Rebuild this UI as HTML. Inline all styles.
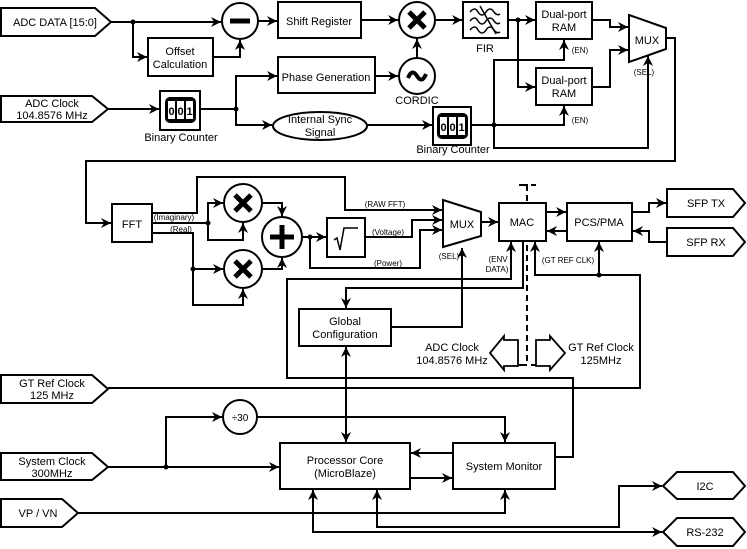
<!DOCTYPE html>
<html><head><meta charset="utf-8"><style>
html,body{margin:0;padding:0;background:#fff;}
svg{display:block;}
text{font-family:"Liberation Sans",sans-serif;fill:#000;}
.t{font-size:11px;text-anchor:middle;}
.s{font-size:8px;text-anchor:middle;}
</style></head><body>
<svg width="747" height="549" viewBox="0 0 747 549" xmlns="http://www.w3.org/2000/svg">
<defs>
<marker id="a" viewBox="0 0 10 10" refX="10" refY="5" markerWidth="10" markerHeight="10" markerUnits="userSpaceOnUse" orient="auto-start-reverse">
<path d="M0,0 L10,5 L0,10 L3,5 z" fill="#000"/></marker>
</defs>
<!-- dashed line (behind) -->
<g stroke="#000" stroke-width="2" fill="none">
<line x1="527" y1="185" x2="527" y2="365" stroke-dasharray="6,4"/>
<polyline points="519,185 527,185 527,190"/><line x1="531" y1="185" x2="536" y2="185"/>
<polyline points="519,365 527,365"/><line x1="531" y1="365" x2="536" y2="365"/>
</g>
<g fill="none" stroke="#000" stroke-width="2">
<!-- ports -->
<polygon points="1,8 95,8 111,22 95,36 1,36" fill="#fff"/>
<polygon points="1,96 92,96 108,109 92,122 1,122" fill="#fff"/>
<polygon points="1,375 92,375 108,389 92,403 1,403" fill="#fff"/>
<polygon points="1,453 92,453 108,467 92,480 1,480" fill="#fff"/>
<polygon points="1,499 62,499 78,513 62,527 1,527" fill="#fff"/>
<polygon points="667,189 733,189 745,203 733,217 667,217" fill="#fff"/>
<polygon points="667,228 733,228 745,242 733,256 667,256" fill="#fff"/>
<polygon points="663,486 677,472 733,472 745,486 733,499 677,499" fill="#fff"/>
<polygon points="663,532 677,518 733,518 745,532 733,546 677,546" fill="#fff"/>

<!-- top row -->
<line x1="111" y1="22" x2="221" y2="22" marker-end="url(#a)"/>
<polyline points="133,22 133,57 147,57" marker-end="url(#a)"/>
<rect x="148" y="38" width="65" height="38"/>
<polyline points="213,57 240,57 240,40" marker-end="url(#a)"/>
<circle cx="240" cy="21" r="18"/>
<line x1="258" y1="21" x2="277" y2="21" marker-end="url(#a)"/>
<rect x="278" y="2" width="83" height="36"/>
<line x1="361" y1="20" x2="398" y2="20" marker-end="url(#a)"/>
<circle cx="417" cy="20" r="18"/>
<line x1="435" y1="20" x2="462" y2="20" marker-end="url(#a)"/>
<rect x="463" y="2" width="45" height="36"/>
<line x1="508" y1="20" x2="535" y2="20" marker-end="url(#a)"/>
<polyline points="518,20 518,87 535,87" marker-end="url(#a)"/>
<rect x="536" y="2" width="56" height="37"/>
<rect x="536" y="68" width="56" height="37"/>
<polyline points="592,20 610,20 610,27 628,27" marker-end="url(#a)"/>
<polyline points="592,87 610,87 610,50 628,50" marker-end="url(#a)"/>
<polygon points="629,15 666,28 666,49 629,62" fill="#fff"/>
<polyline points="666,38 675,38 675,161 86,161 86,223 111,223" marker-end="url(#a)"/>

<!-- second row -->
<line x1="108" y1="109" x2="159" y2="109" marker-end="url(#a)"/>
<rect x="160" y="91" width="40" height="39"/>
<polyline points="200,109 236,109"/>
<polyline points="236,109 236,76 277,76" marker-end="url(#a)"/>
<polyline points="236,109 236,125 272,125" marker-end="url(#a)"/>
<rect x="278" y="57" width="97" height="36"/>
<line x1="375" y1="76" x2="398" y2="76" marker-end="url(#a)"/>
<circle cx="417" cy="76" r="18"/>
<line x1="417" y1="58" x2="417" y2="39" marker-end="url(#a)"/>
<ellipse cx="320" cy="126" rx="47" ry="14"/>
<line x1="367" y1="125" x2="432" y2="125" marker-end="url(#a)"/>
<rect x="433" y="107" width="38" height="38"/>
<polyline points="471,125 564,125 564,106" marker-end="url(#a)"/>
<polyline points="494,125 494,60 564,60 564,40" marker-end="url(#a)"/>
<polyline points="494,125 494,148 648,148 648,56" marker-end="url(#a)"/>

<!-- FFT section -->
<rect x="112" y="204" width="40" height="38"/>
<polyline points="152,213 197,213 197,177 345,177 345,210 442,210" marker-end="url(#a)"/>
<line x1="152" y1="223" x2="208" y2="223"/>
<polyline points="208,223 208,203 223,203" marker-end="url(#a)"/>
<polyline points="208,223 208,240 243,240 243,223" marker-end="url(#a)"/>
<polyline points="152,233 193,233 193,305 243,305 243,289" marker-end="url(#a)"/>
<line x1="193" y1="269" x2="223" y2="269" marker-end="url(#a)"/>
<circle cx="243" cy="203" r="19"/>
<circle cx="243" cy="269" r="19"/>
<circle cx="282" cy="237" r="20"/>
<polyline points="262,203 282,203 282,216" marker-end="url(#a)"/>
<polyline points="262,269 282,269 282,258" marker-end="url(#a)"/>
<line x1="302" y1="237" x2="326" y2="237" marker-end="url(#a)"/>
<rect x="327" y="218" width="38" height="39"/>
<polyline points="365,237 412,237 412,220 442,220" marker-end="url(#a)"/>
<polyline points="310,237 310,268 420,268 420,230 442,230" marker-end="url(#a)"/>
<polygon points="443,200 481,212 481,236 443,247" fill="#fff"/>
<line x1="481" y1="222" x2="498" y2="222" marker-end="url(#a)"/>
<rect x="499" y="203" width="47" height="38" fill="#fff"/>
<rect x="567" y="203" width="65" height="38"/>
<line x1="546" y1="212" x2="566" y2="212" marker-end="url(#a)"/>
<line x1="567" y1="231" x2="547" y2="231" marker-end="url(#a)"/>
<polyline points="632,212 649,212 649,203 666,203" marker-end="url(#a)"/>
<polyline points="667,242 649,242 649,231 633,231" marker-end="url(#a)"/>

<!-- mid connections -->
<polyline points="391,327 462,327 462,248" marker-end="url(#a)"/>
<polyline points="523,241 523,288 346,288 346,308" marker-end="url(#a)"/>
<polyline points="555,457 573,457 573,378 287,378 287,279 511,279 511,242" marker-end="url(#a)"/>
<polyline points="108,388 640,388 640,275 535,275 535,242" marker-end="url(#a)"/>
<line x1="599" y1="275" x2="599" y2="242" marker-end="url(#a)"/>
<rect x="299" y="309" width="92" height="37"/>
<line x1="346" y1="347" x2="346" y2="442" marker-start="url(#a)" marker-end="url(#a)"/>

<!-- bottom -->
<rect x="280" y="443" width="130" height="46"/>
<rect x="453" y="443" width="102" height="46"/>
<line x1="108" y1="467" x2="279" y2="467" marker-end="url(#a)"/>
<polyline points="166,467 166,417 222,417" marker-end="url(#a)"/>
<circle cx="240" cy="417" r="17"/>
<polyline points="257,417 505,417 505,442" marker-end="url(#a)"/>
<line x1="453" y1="453" x2="411" y2="453" marker-end="url(#a)"/>
<line x1="410" y1="478" x2="452" y2="478" marker-end="url(#a)"/>
<polyline points="78,513 505,513 505,490" marker-end="url(#a)"/>
<polyline points="662,532 313,532 313,490" marker-start="url(#a)" marker-end="url(#a)"/>
<polyline points="662,486 619,486 619,527 377,527 377,490" marker-start="url(#a)" marker-end="url(#a)"/>

<!-- hollow arrows -->
<polygon points="518,340 504,340 504,336 490,353 504,370 504,366 518,366" stroke-width="1.8" fill="#fff"/>
<polygon points="536,340 550,340 550,336 565,353 550,370 550,366 536,366" stroke-width="1.8" fill="#fff"/>
</g>
<!-- dots -->
<g fill="#000">
<circle cx="133" cy="22" r="2.5"/><circle cx="236" cy="109" r="2.5"/><circle cx="518" cy="20" r="2.5"/>
<circle cx="494" cy="125" r="2.5"/><circle cx="208" cy="223" r="2.5"/><circle cx="193" cy="269" r="2.5"/>
<circle cx="310" cy="237" r="2.5"/><circle cx="599" cy="275" r="2.5"/><circle cx="166" cy="467" r="2.5"/>
</g>
<!-- symbols -->
<g stroke="#000" stroke-width="5" fill="none" stroke-linecap="butt">
<line x1="230" y1="21" x2="250" y2="21"/>
<line x1="409" y1="12" x2="425" y2="28"/><line x1="425" y1="12" x2="409" y2="28"/>
<line x1="235" y1="195" x2="251" y2="211"/><line x1="251" y1="195" x2="235" y2="211"/>
<line x1="235" y1="261" x2="251" y2="277"/><line x1="251" y1="261" x2="235" y2="277"/>
<line x1="270" y1="237" x2="294" y2="237"/><line x1="282" y1="225" x2="282" y2="249"/>
<path d="M408,78 Q412,68 417,76 Q422,84 426,74" stroke-width="4"/>
</g>
<g stroke="#000" stroke-width="1.5" fill="none">
<path d="M334,240 L337,238 L340,250 L344,228 L358,228"/>
<path d="M470,12 q5,-6 8,0 q4,6 8,0 q4,-6 8,0 q3,4 6,2"/>
<path d="M470,21 q5,-6 8,0 q4,6 8,0 q4,-6 8,0 q3,4 6,2"/>
<path d="M470,30 q5,-6 8,0 q4,6 8,0 q4,-6 8,0 q3,4 6,2"/>
<line x1="480" y1="6" x2="496" y2="34"/>
</g>
<!-- counters -->
<g>
<rect x="165" y="97" width="31" height="26" rx="5" fill="#000"/>
<rect x="168" y="101" width="7" height="18" fill="#fff"/><rect x="177" y="101" width="7" height="18" fill="#fff"/><rect x="186" y="101" width="7" height="18" fill="#fff"/>
<text x="171.5" y="115" class="t" style="font-size:11px;font-weight:bold">0</text><text x="180.5" y="115" class="t" style="font-size:11px;font-weight:bold">0</text><text x="189.5" y="115" class="t" style="font-size:11px;font-weight:bold">1</text>
<rect x="437" y="113" width="31" height="26" rx="5" fill="#000"/>
<rect x="440" y="117" width="7" height="18" fill="#fff"/><rect x="449" y="117" width="7" height="18" fill="#fff"/><rect x="458" y="117" width="7" height="18" fill="#fff"/>
<text x="443.5" y="131" class="t" style="font-size:11px;font-weight:bold">0</text><text x="452.5" y="131" class="t" style="font-size:11px;font-weight:bold">0</text><text x="461.5" y="131" class="t" style="font-size:11px;font-weight:bold">1</text>
</g>
<!-- text -->
<text x="55" y="26" class="t">ADC DATA [15:0]</text>
<text x="52" y="107" class="t">ADC Clock</text><text x="52" y="119" class="t">104.8576 MHz</text>
<text x="52" y="387" class="t">GT Ref Clock</text><text x="52" y="399" class="t">125 MHz</text>
<text x="52" y="465" class="t">System Clock</text><text x="52" y="477" class="t">300MHz</text>
<text x="38" y="517" class="t">VP / VN</text>
<text x="180" y="55" class="t">Offset</text><text x="180" y="68" class="t">Calculation</text>
<text x="319" y="25" class="t">Shift Register</text>
<text x="326" y="81" class="t">Phase Generation</text>
<text x="417" y="104" class="t">CORDIC</text>
<text x="320" y="123" class="t">Internal Sync</text><text x="320" y="136" class="t">Signal</text>
<text x="181" y="141" class="t">Binary Counter</text>
<text x="453" y="153" class="t">Binary Counter</text>
<text x="485" y="52" class="t">FIR</text>
<text x="564" y="18" class="t">Dual-port</text><text x="564" y="31" class="t">RAM</text>
<text x="564" y="84" class="t">Dual-port</text><text x="564" y="97" class="t">RAM</text>
<text x="580" y="53" class="s">(EN)</text><text x="580" y="123" class="s">(EN)</text>
<text x="647" y="44" class="t">MUX</text><text x="644" y="75" class="s">(SEL)</text>
<text x="132" y="228" class="t">FFT</text>
<text x="174" y="220" class="s">(Imaginary)</text><text x="181" y="232" class="s">(Real)</text>
<text x="385" y="207" class="s">(RAW FFT)</text><text x="388" y="235" class="s">(Voltage)</text><text x="388" y="266" class="s">(Power)</text>
<text x="462" y="228" class="t">MUX</text><text x="449" y="259" class="s">(SEL)</text>
<text x="522" y="226" class="t">MAC</text>
<text x="599" y="226" class="t">PCS/PMA</text>
<text x="498" y="262" class="s">(ENV</text><text x="497" y="272" class="s">DATA)</text>
<text x="568" y="263" class="s">(GT REF CLK)</text>
<text x="706" y="207" class="t">SFP TX</text><text x="706" y="246" class="t">SFP RX</text>
<text x="345" y="325" class="t">Global</text><text x="345" y="338" class="t">Configuration</text>
<text x="452" y="351" class="t">ADC Clock</text><text x="452" y="364" class="t">104.8576 MHz</text>
<text x="601" y="351" class="t">GT Ref Clock</text><text x="601" y="364" class="t">125MHz</text>
<text x="240" y="421" class="t" style="font-size:10px">÷30</text>
<text x="345" y="464" class="t">Processor Core</text><text x="345" y="477" class="t">(MicroBlaze)</text>
<text x="504" y="470" class="t">System Monitor</text>
<text x="705" y="490" class="t">I2C</text><text x="705" y="536" class="t">RS-232</text>
</svg>
</body></html>
